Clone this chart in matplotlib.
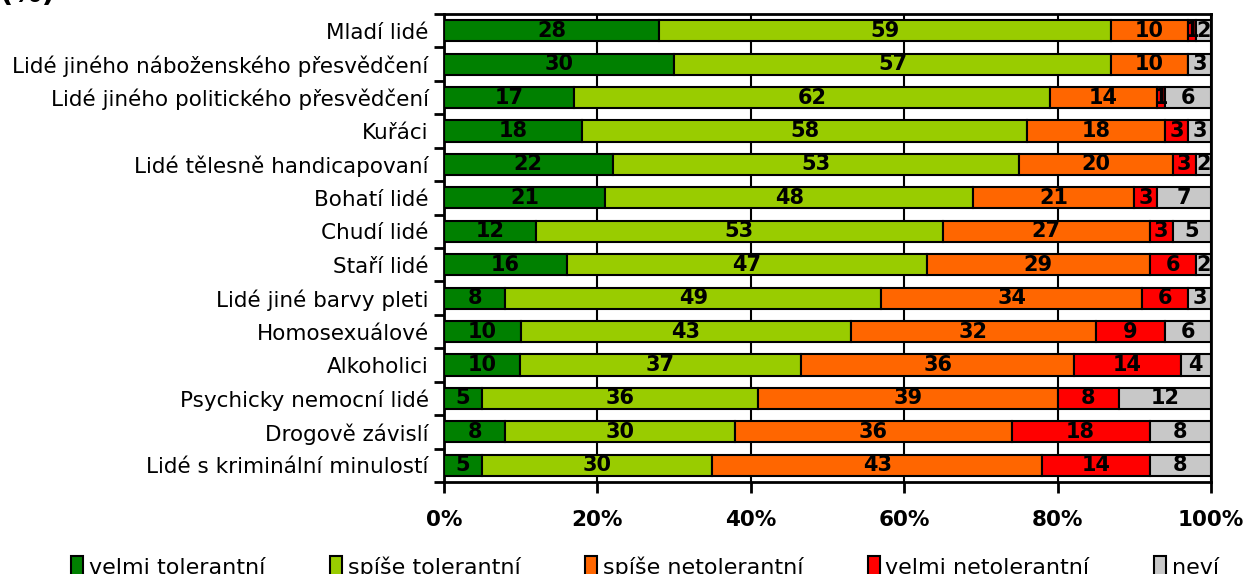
import numpy as np
import matplotlib
matplotlib.use('Agg')
import matplotlib.pyplot as plt
from matplotlib.patches import Patch

# Categories (top to bottom)
categories = ['Mladí lidé', 'Lidé jiného náboženského přesvědčení',
              'Lidé jiného politického přesvědčení', 'Kuřáci',
              'Lidé tělesně handicapovaní', 'Bohatí lidé', 'Chudí lidé',
              'Staří lidé', 'Lidé jiné barvy pleti', 'Homosexuálové',
              'Alkoholici', 'Psychicky nemocní lidé', 'Drogově závislí',
              'Lidé s kriminální minulostí']

velmi_tol = [28, 30, 17, 18, 22, 21, 12, 16, 8, 10, 10, 5, 8, 5]
spise_tol = [59, 57, 62, 58, 53, 48, 53, 47, 49, 43, 37, 36, 30, 30]
spise_net = [10, 10, 14, 18, 20, 21, 27, 29, 34, 32, 36, 39, 36, 43]
velmi_net = [1, 0, 1, 3, 3, 3, 3, 6, 6, 9, 14, 8, 18, 14]
nevi = [2, 3, 6, 3, 2, 7, 5, 2, 3, 6, 4, 12, 8, 8]

series = ['velmi tolerantní', 'spíše tolerantní', 'spíše netolerantní',
          'velmi netolerantní', 'neví']
colors = ['#008000', '#99CC00', '#FF6600', '#FF0000', '#C8C8C8']
x_ticks = [0, 20, 40, 60, 80, 100]

data = np.array([velmi_tol, spise_tol, spise_net, velmi_net, nevi], dtype=float)
totals = data.sum(axis=0)
pct = data / totals * 100  # 100% stacked, like Excel

fig = plt.figure(figsize=(12.5, 5.74), dpi=100)
ax = fig.add_axes([0.3552, 0.1603, 0.6136, 0.8153])

y = np.arange(len(categories))
left = np.zeros(len(categories))
for i in range(len(series)):
    ax.barh(y, pct[i], left=left, height=0.63, color=colors[i],
            edgecolor='black', linewidth=1.5, zorder=3, label=series[i])
    for j in range(len(categories)):
        if data[i, j] > 0:
            ax.text(left[j] + pct[i, j] / 2, y[j], f'{int(data[i, j])}',
                    ha='center', va='center', fontsize=15, fontweight='bold',
                    color='black', zorder=4)
    left += pct[i]

ax.set_xlim(0, 100)
ax.set_ylim(len(categories) - 0.5, -0.5)
ax.set_xticks(x_ticks)
ax.set_xticklabels([f'{t}%' for t in x_ticks], fontsize=15.5, fontweight='bold')
ax.tick_params(axis='x', length=8, width=2, pad=12)
ax.set_yticks(y)
ax.set_yticklabels(categories, fontsize=15.5)
ax.tick_params(axis='y', which='major', length=0, pad=11)
ax.set_yticks(np.arange(-0.5, len(categories), 1), minor=True)
ax.tick_params(axis='y', which='minor', length=7, width=2)
ax.grid(axis='x', color='black', linewidth=1.5, zorder=0)
ax.set_axisbelow(True)
for s in ax.spines.values():
    s.set_linewidth(2)

fig.text(0.0, 0.9965, '(%)', fontsize=21, fontweight='bold', va='baseline', ha='left')

handles = [Patch(facecolor=c, edgecolor='black', linewidth=1.5) for c in colors]
fig.legend(handles, series, loc='center', bbox_to_anchor=(0.516, 0.012), ncol=5,
           frameon=False, fontsize=16, handlelength=0.55, handleheight=1.0,
           handletextpad=0.25, columnspacing=2.9)

fig.savefig('out.png', dpi=100)
